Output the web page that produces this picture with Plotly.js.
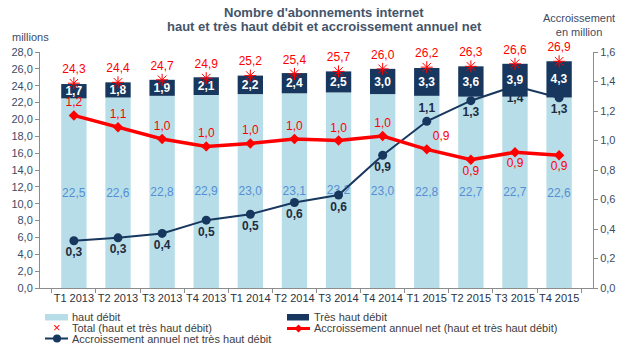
<!DOCTYPE html>
<html>
<head>
<meta charset="utf-8">
<script src="https://cdn.plot.ly/plotly-3.0.1.min.js"></script>
<style>html,body{margin:0;padding:0;background:#fff;}#chart{width:627px;height:351px;}</style>
</head>
<body>
<div id="chart"></div>
<script>
// ---- data ----
var categories = ['T1 2013','T2 2013','T3 2013','T4 2013','T1 2014','T2 2014','T3 2014','T4 2014','T1 2015','T2 2015','T3 2015','T4 2015'];
var hautDebit = [22.5, 22.6, 22.8, 22.9, 23.0, 23.1, 23.2, 23.0, 22.8, 22.7, 22.7, 22.6];
var tresHautDebit = [1.7, 1.8, 1.9, 2.1, 2.2, 2.4, 2.5, 3.0, 3.3, 3.6, 3.9, 4.3];
var total = [24.3, 24.4, 24.7, 24.9, 25.2, 25.4, 25.7, 26.0, 26.2, 26.3, 26.6, 26.9];
var accroTotal = [1.17, 1.09, 1.01, 0.96, 0.98, 1.01, 1.00, 1.03, 0.94, 0.87, 0.92, 0.90];
var accroTHD = [0.32, 0.34, 0.37, 0.46, 0.50, 0.58, 0.63, 0.90, 1.13, 1.27, 1.37, 1.29];
var titleLines = ["Nombre d'abonnements internet", "haut et très haut débit et accroissement annuel net"];

// ---- layout geometry (plot area in px) ----
var L = 40, R = 593, T = 52, B = 288;
function px(x){ return (x - L) / (R - L); }
function py(y){ return (B - y) / (B - T); }

var FONT = '"Liberation Sans", Arial, sans-serif';
var NAVY = '#17375E';
var LIGHT = '#B7DEE8';
var RED = '#FF0000';
var AXC = '#3D4B66';

var redPos = accroTotal.map(function(v,i){ return i >= 9 ? 'bottom center' : (i === 8 ? 'top right' : 'top center'); });
var navyPos = accroTHD.map(function(v,i){ return i === 8 ? 'top center' : 'bottom center'; });

var traces = [
  {
    type: 'bar', name: 'haut débit', x: categories, y: hautDebit,
    xaxis: 'x', yaxis: 'y',
    marker: {color: LIGHT},
    texttemplate: '%{y:.1f}', textposition: 'inside', insidetextanchor: 'middle',
    textangle: 0, constraintext: 'none',
    textfont: {family: FONT, size: 12, color: '#558ED5'},
    hoverinfo: 'skip'
  },
  {
    type: 'scatter', mode: 'lines+markers+text', name: 'Accroissement annuel net très haut débit',
    x: categories, y: accroTHD, xaxis: 'x', yaxis: 'y2',
    line: {color: NAVY, width: 2},
    marker: {color: NAVY, size: 9, symbol: 'circle'},
    texttemplate: '%{y:.1f}', textposition: navyPos,
    textfont: {family: FONT, size: 12, color: '#1F2B3E', weight: 'bold'},
    cliponaxis: false, hoverinfo: 'skip'
  },
  {
    type: 'bar', name: 'Très haut débit', x: categories, y: tresHautDebit, base: hautDebit,
    xaxis: 'x', yaxis: 'y3',
    marker: {color: NAVY},
    texttemplate: '%{y:.1f}', textposition: 'inside', insidetextanchor: 'middle',
    textangle: 0, constraintext: 'none',
    textfont: {family: FONT, size: 12, color: '#FFFFFF', weight: 'bold'},
    hoverinfo: 'skip'
  },
  {
    type: 'scatter', mode: 'markers+text', name: 'Total (haut et très haut débit)',
    x: categories, y: total, xaxis: 'x', yaxis: 'y3',
    marker: {color: RED, size: 10, symbol: 'asterisk-open', line: {color: RED, width: 1}},
    texttemplate: '%{y:.1f}', textposition: 'top center',
    textfont: {family: FONT, size: 12, color: RED},
    cliponaxis: false, hoverinfo: 'skip'
  },
  {
    type: 'scatter', mode: 'lines+markers+text', name: 'Accroissement annuel net (haut et très haut débit)',
    x: categories, y: accroTotal, xaxis: 'x', yaxis: 'y4',
    line: {color: RED, width: 3.5},
    marker: {color: RED, size: 8, symbol: 'diamond'},
    texttemplate: '%{y:.1f}', textposition: redPos,
    textfont: {family: FONT, size: 12, color: RED},
    cliponaxis: false, hoverinfo: 'skip'
  }
];

var legendTxt = {family: FONT, size: 11, color: '#404040'};
function txt(x, y, s, opts){
  var a = {xref: 'paper', yref: 'paper', x: px(x), y: py(y), text: s, showarrow: false,
           xanchor: 'left', yanchor: 'middle', font: legendTxt};
  if (opts) for (var k in opts) a[k] = opts[k];
  return a;
}

var titleFont = {family: FONT, size: 13, color: '#44546A', weight: 'bold'};
var annotations = [
  txt(324, 12, titleLines[0], {xanchor: 'center', font: titleFont}),
  txt(324, 26, titleLines[1], {xanchor: 'center', font: titleFont}),
  txt(70, 317, 'haut débit'),
  txt(312, 317, 'Très haut débit'),
  txt(70, 328, 'Total (haut et très haut débit)'),
  txt(312, 328, 'Accroissement annuel net (haut et très haut débit)'),
  txt(70, 338.5, 'Accroissement annuel net très haut débit'),
  txt(57, 327.5, '×', {xanchor: 'center', font: {family: FONT, size: 13, color: RED}}),
  txt(30, 37, 'millions', {xanchor: 'center', font: {family: FONT, size: 11, color: AXC}}),
  txt(579, 25, 'Accroissement<br>en million', {xanchor: 'center', font: {family: FONT, size: 11, color: AXC}})
];

var shapes = [
  {type: 'rect', xref: 'paper', yref: 'paper', x0: px(45), x1: px(68), y0: py(314), y1: py(320.5), fillcolor: LIGHT, line: {width: 0}},
  {type: 'rect', xref: 'paper', yref: 'paper', x0: px(287), x1: px(309), y0: py(314), y1: py(320.5), fillcolor: NAVY, line: {width: 0}},
  {type: 'line', xref: 'paper', yref: 'paper', x0: px(287), x1: px(310), y0: py(328.5), y1: py(328.5), line: {color: RED, width: 3}},
  {type: 'path', xref: 'paper', yref: 'paper',
   path: 'M' + px(294.5) + ',' + py(328.5) + ' L' + px(298.5) + ',' + py(324.5) + ' L' + px(302.5) + ',' + py(328.5) + ' L' + px(298.5) + ',' + py(332.5) + ' Z',
   fillcolor: RED, line: {width: 0}},
  {type: 'line', xref: 'paper', yref: 'paper', x0: px(45), x1: px(68), y0: py(338.5), y1: py(338.5), line: {color: NAVY, width: 2}},
  {type: 'circle', xref: 'paper', yref: 'paper', x0: px(53), x1: px(61), y0: py(334.5), y1: py(342.5), fillcolor: NAVY, line: {width: 0}}
];

var layout = {
  width: 627, height: 351,
  margin: {l: L, r: 627 - R, t: T, b: 351 - B, pad: 0},
  paper_bgcolor: '#FFFFFF', plot_bgcolor: '#FFFFFF',
  separators: ', ',
  showlegend: false,
  barmode: 'overlay', bargap: 0.425,
  font: {family: FONT, size: 11, color: AXC},
  xaxis: {
    type: 'category', showgrid: false, zeroline: false,
    showline: true, linecolor: '#8C8C8C', linewidth: 1,
    ticks: 'outside', tickson: 'boundaries', ticklen: 4, tickcolor: '#8C8C8C',
    tickangle: 0,
    tickfont: {family: FONT, size: 11, color: '#2A3344'},
    fixedrange: true
  },
  yaxis: {
    range: [0, 28], dtick: 2, tickformat: '.1f', showgrid: false, zeroline: false,
    showline: true, linecolor: '#8C8C8C', linewidth: 1,
    ticks: 'outside', ticklen: 4, tickcolor: '#8C8C8C',
    tickfont: {family: FONT, size: 11, color: AXC}
  },
  yaxis2: {
    range: [0, 1.6], dtick: 0.2, tickformat: '.1f', overlaying: 'y', side: 'right',
    showgrid: false, zeroline: false,
    showline: true, linecolor: '#8C8C8C', linewidth: 1,
    ticks: 'outside', ticklen: 4, tickcolor: '#8C8C8C',
    tickfont: {family: FONT, size: 11, color: AXC}
  },
  yaxis3: {range: [0, 28], overlaying: 'y', visible: false},
  yaxis4: {range: [0, 1.6], overlaying: 'y', visible: false},
  annotations: annotations,
  shapes: shapes
};

Plotly.newPlot('chart', traces, layout, {staticPlot: true, displayModeBar: false});
</script>
</body>
</html>
